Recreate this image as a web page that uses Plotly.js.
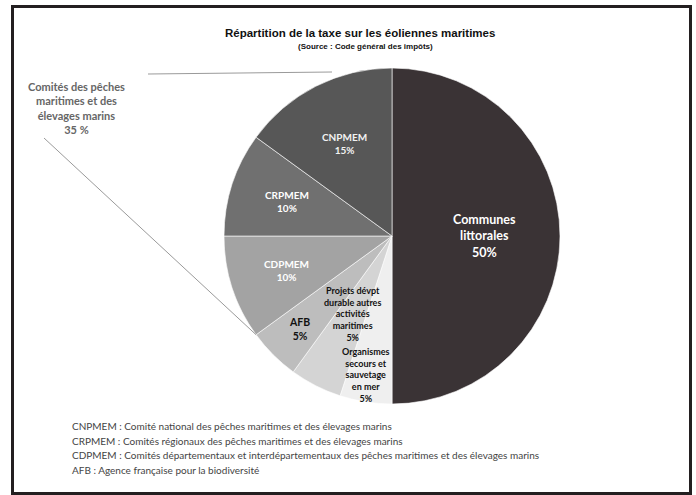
<!DOCTYPE html>
<html>
<head>
<meta charset="utf-8">
<script src="https://cdn.plot.ly/plotly-3.0.1.min.js"></script>
<style>html,body{margin:0;padding:0;background:#fff;}#chart{width:696px;height:495px;}</style>
</head>
<body>
<div id="chart"></div>
<script>
// ---- data ----
const categories = ['Communes littorales', 'Organismes secours et sauvetage en mer', 'Projets dévpt durable autres activités maritimes', 'AFB', 'CDPMEM', 'CRPMEM', 'CNPMEM'];
const shares = [50, 5, 5, 5, 10, 10, 15];
const sliceLabels = ['Communes<br>littorales', 'Organismes<br>secours et<br>sauvetage<br>en mer', 'Projets dévpt<br>durable autres<br>activités<br>maritimes', 'AFB', 'CDPMEM', 'CRPMEM', 'CNPMEM'];
const groupLabel = 'Comités des pêches<br>maritimes et des<br>élevages marins';
const groupShare = 35;
const glossary = [
  'CNPMEM : Comité national des pêches maritimes et des élevages marins',
  'CRPMEM : Comités régionaux des pêches maritimes et des élevages marins',
  'CDPMEM : Comités départementaux et interdépartementaux des pêches maritimes et des élevages marins',
  'AFB : Agence française pour la biodiversité'
];

// ---- styles ----
const W = 696, H = 495;
const colors = ['#3a3335', '#efefef', '#d4d4d4', '#bdbdbd', '#a3a3a3', '#707070', '#575757'];
const textColors = ['#ffffff', '#111111', '#111111', '#111111', '#ffffff', '#ffffff', '#f2f2f2'];
const labelRadius = [0.55, 0.84, 0.52, 0.78, 0.66, 0.66, 0.62];
const labelSize = [12.5, 9, 9, 10.5, 10, 10, 10];
const labelShiftX = [0, -4, 0, 0, 0, 0, 0];
const cx = 392, cy = 236, R = 168;
const px = x => x / W, py = y => 1 - y / H;

const total = shares.reduce((a, b) => a + b, 0);
const annotations = [];
let cum = 0;
const angleAt = v => v / total * 2 * Math.PI;
shares.forEach((v, i) => {
  const mid = angleAt(cum + v / 2);
  cum += v;
  const r = R * labelRadius[i];
  annotations.push({
    xref: 'paper', yref: 'paper', showarrow: false,
    x: px(cx + r * Math.sin(mid)), y: py(cy - r * Math.cos(mid)), xshift: labelShiftX[i],
    xanchor: 'center', yanchor: 'middle', align: 'center',
    text: '<b>' + sliceLabels[i] + '<br>' + v + '%</b>',
    font: {family: 'Lato, "Open Sans", sans-serif', size: labelSize[i], color: textColors[i]}
  });
});

// group annotation
annotations.push({
  xref: 'paper', yref: 'paper', showarrow: false, x: px(76), y: py(108),
  xanchor: 'center', yanchor: 'middle', align: 'center',
  text: '<b>' + groupLabel + '<br>' + groupShare + ' %</b>',
  font: {family: 'Lato, "Open Sans", sans-serif', size: 11, color: '#666666'}
});
// title
annotations.push({xref: 'paper', yref: 'paper', showarrow: false, x: px(360), y: py(33), xanchor: 'center', yanchor: 'middle',
  text: '<b>Répartition de la taxe sur les éoliennes maritimes</b>',
  font: {family: 'Arial, "Liberation Sans", sans-serif', size: 11.5, color: '#111'}});
annotations.push({xref: 'paper', yref: 'paper', showarrow: false, x: px(365), y: py(47), xanchor: 'center', yanchor: 'middle',
  text: '<b>(Source : Code général des impôts)</b>',
  font: {family: 'Arial, "Liberation Sans", sans-serif', size: 8, color: '#111'}});
// glossary
glossary.forEach((t, i) => {
  annotations.push({xref: 'paper', yref: 'paper', showarrow: false, x: px(70), y: py(426 + i * 14.5), xanchor: 'left', yanchor: 'middle',
    text: t, font: {family: 'Lato, "Open Sans", sans-serif', size: 10, color: '#444'}});
});

// group bracket lines: from the label to the start and end of the committees' slices
const groupStart = angleAt(total - groupShare), groupEnd = angleAt(total);
const shapes = [
  {type: 'line', xref: 'paper', yref: 'paper', x0: px(148), y0: py(74), x1: px(cx + R * Math.sin(groupEnd) - 60), y1: py(cy - R * Math.cos(groupEnd) + 4), line: {color: '#9a9a9a', width: 1}},
  {type: 'line', xref: 'paper', yref: 'paper', x0: px(44), y0: py(138), x1: px(cx + R * Math.sin(groupStart)), y1: py(cy - R * Math.cos(groupStart)), line: {color: '#9a9a9a', width: 1}},
  {type: 'rect', xref: 'paper', yref: 'paper', x0: px(12.5), y0: py(6.5), x1: px(690.5), y1: py(493.5), line: {color: '#231f20', width: 3}}
];

const trace = {
  type: 'pie',
  labels: categories,
  values: shares,
  sort: false,
  direction: 'clockwise',
  rotation: 0,
  textinfo: 'none',
  textposition: 'none',
  hoverinfo: 'label+percent',
  marker: {colors: colors, line: {color: '#ffffff', width: 0.6}},
  domain: {x: [px(cx - R), px(cx + R)], y: [py(cy + R), py(cy - R)]},
  showlegend: false
};

Plotly.newPlot('chart', [trace], {
  width: W, height: H,
  margin: {l: 0, r: 0, t: 0, b: 0},
  paper_bgcolor: '#ffffff',
  showlegend: false,
  annotations: annotations,
  shapes: shapes
}, {displayModeBar: false, staticPlot: true});
</script>
</body>
</html>
